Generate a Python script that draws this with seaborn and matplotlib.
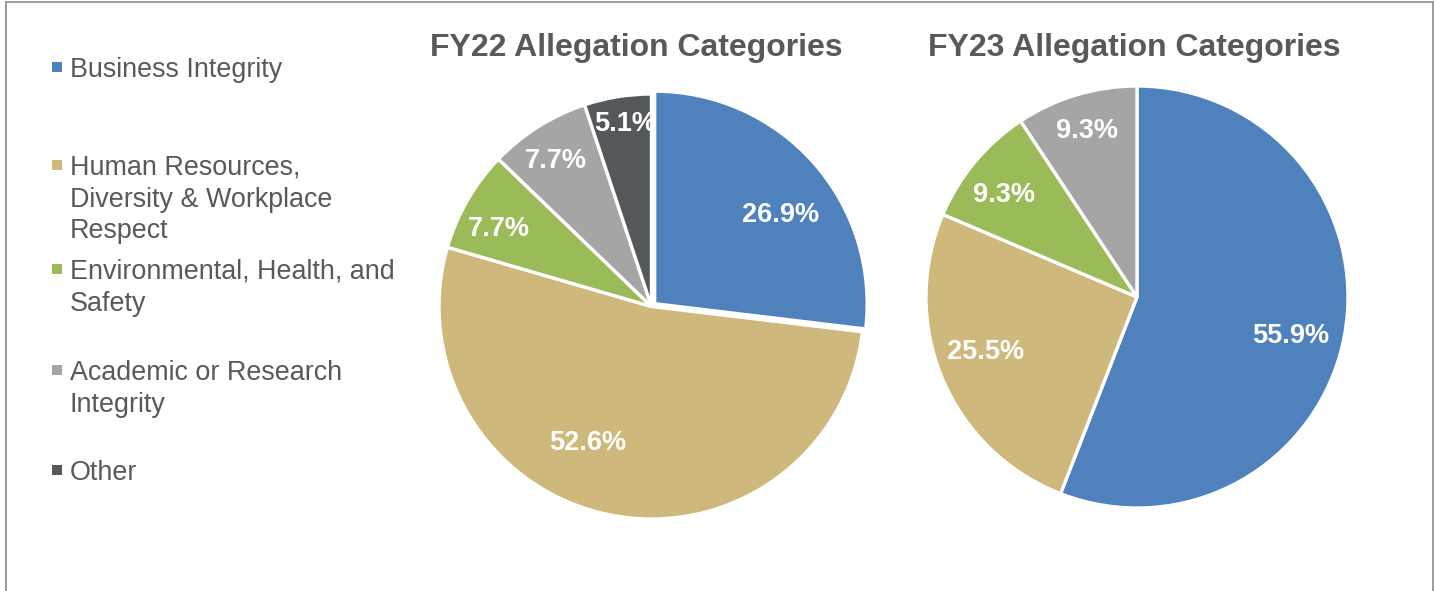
import matplotlib
matplotlib.use("Agg")
import matplotlib.pyplot as plt
import seaborn as sns
import numpy as np
from matplotlib.lines import Line2D
from matplotlib.patches import Rectangle

# ---- data ----
categories = ["Business Integrity",
              "Human Resources,\nDiversity & Workplace\nRespect",
              "Environmental, Health, and\nSafety",
              "Academic or Research\nIntegrity",
              "Other"]
fy22_values = [26.9, 52.6, 7.7, 7.7, 5.1]
fy23_values = [55.9, 25.5, 9.3, 9.3]
titles = ["FY22 Allegation Categories", "FY23 Allegation Categories"]
colors = ["#4F81BD", "#CFB87C", "#9BBB59", "#A4A5A4", "#55585B"]

sns.set_theme(style="white")
plt.rcParams['font.family'] = ['Liberation Sans', 'DejaVu Sans']

W, H = 1435, 591
fig = plt.figure(figsize=(W / 100, H / 100), dpi=100)
fig.patch.set_facecolor("white")

TXT = "#595959"


def px_axes(cx, cy, r):
    return fig.add_axes([(cx - r) / W, (H - cy - r) / H, 2 * r / W, 2 * r / H])


def draw_pie(ax, values, explode, label_r, label_dang, title, title_xy):
    wedges, _, autotexts = ax.pie(
        values, colors=colors[:len(values)], startangle=90, counterclock=False,
        explode=explode, autopct=lambda p: f"{p:.1f}%", pctdistance=0.75,
        wedgeprops=dict(edgecolor="white", linewidth=2.4),
        textprops=dict(color="white", fontsize=19.5, fontweight="bold"))
    for w, t, r, da in zip(wedges, autotexts, label_r, label_dang):
        ang = np.deg2rad((w.theta1 + w.theta2) / 2 + da)
        t.set_position((r * np.cos(ang), r * np.sin(ang) - 0.012))
    ax.set_xlim(-1, 1)
    ax.set_ylim(-1, 1)
    ax.set_aspect("equal")
    ax.axis("off")
    fig.text(title_xy[0] / W, 1 - title_xy[1] / H, title, ha="center", va="center",
             fontsize=23, fontweight="bold", color=TXT)


ax1 = px_axes(651.5, 306.5, 212.5)
draw_pie(ax1, fy22_values, [0.02, 0, 0, 0, 0],
         [0.75, 0.70, 0.81, 0.83, 0.88], [-5.6, -14, 2.3, 0.6, -1],
         titles[0], (636, 48))

ax2 = px_axes(1137, 297, 211)
draw_pie(ax2, fy23_values, None,
         [0.75, 0.76, 0.80, 0.835], [-2.6, -3.6, 1.5, -0.2],
         titles[1], (1134, 48))

# ---- legend ----
legend_y = [67, 165, 269, 370, 470]
for lab, col, y in zip(categories, colors, legend_y):
    fig.patches.append(Rectangle((52 / W, 1 - (y + 5) / H), 10 / W, 10 / H,
                                 transform=fig.transFigure, facecolor=col,
                                 edgecolor="none"))
    fig.text(70 / W, 1 - (y - 10) / H, lab, ha="left", va="top", fontsize=19.4,
             color=TXT, linespacing=1.28)

# ---- border ----
bc = "#8C8C8C"
fig.add_artist(Line2D([6 / W, 6 / W], [0, 1 - 2 / H], transform=fig.transFigure, color=bc, lw=1.2))
fig.add_artist(Line2D([1433 / W, 1433 / W], [0, 1 - 2 / H], transform=fig.transFigure, color=bc, lw=1.2))
fig.add_artist(Line2D([6 / W, 1433 / W], [1 - 2 / H, 1 - 2 / H], transform=fig.transFigure, color=bc, lw=1.2))

fig.savefig("out.png", dpi=100, facecolor="white")
